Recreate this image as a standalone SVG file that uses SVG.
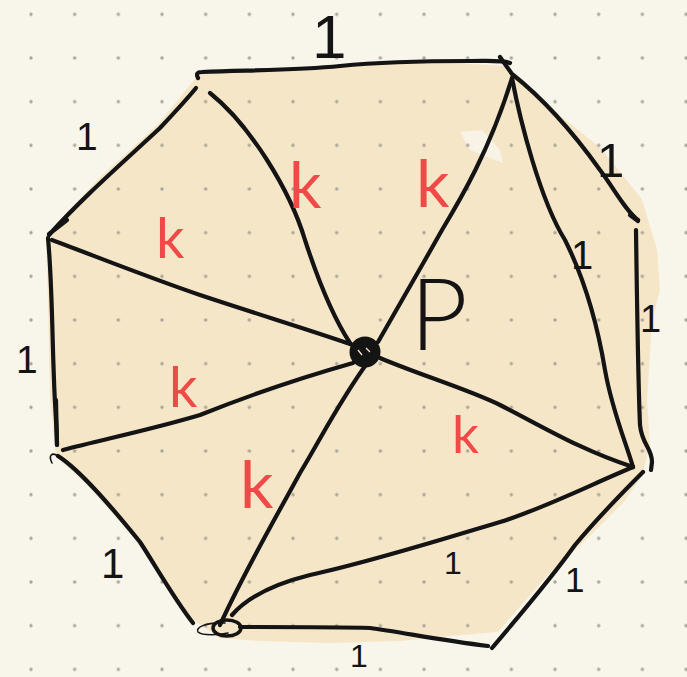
<svg xmlns="http://www.w3.org/2000/svg" width="687" height="677" viewBox="0 0 687 677">
<defs>
<pattern id="dots" x="9.17" y="-7.53" width="43.67" height="43.67" patternUnits="userSpaceOnUse">
<circle cx="21.83" cy="21.83" r="1.7" fill="#aaa59a"/>
</pattern>
<style>
.ln{fill:none;stroke:#141414;stroke-width:4.2;stroke-linecap:round;stroke-linejoin:round}
.thin{fill:none;stroke:#141414;stroke-width:1.6;stroke-linecap:round}
.one{font-family:"Liberation Sans",Arial,sans-serif;fill:#141414}
.k{font-family:"Lato","Liberation Sans",sans-serif;font-weight:400;fill:#f04a48}
.p{font-family:"Lato","Liberation Sans",sans-serif;font-weight:300;fill:#141414}
</style>
</defs>
<rect width="687" height="677" fill="#f8f5ea"/>
<g id="fill">
<path d="M200,76 L300,70 L420,63 L505,68 L525,85 L560,118 L600,150 L640,200 L655,250 L658,290 L650,320 L645,400 L648,445 L640,475 L623,500 L590,533 L547,573 L517,607 L497,630 L450,634 L400,639 L330,641 L260,639 L220,636 L190,615 L160,570 L130,530 L90,485 L58,455 L52,400 L50,300 L48,236 L100,180 L160,125 Z" fill="#f6e6c8" stroke="#f6e6c8" stroke-width="4" stroke-linejoin="round"/>
<path d="M460,132 L482,130 L500,150 L503,163 L470,150 Z" fill="#f8f3e6"/>
</g>
<rect width="687" height="677" fill="url(#dots)"/>
<g id="connectors">
<path id="edge-top" class="ln" d="M198,78 C196,74 197,72 202,72 C260,70 300,70 340,66 C380,62 420,61 470,61 C490,61 503,60 510,63"/>
<path id="edge-upper-left" class="ln" d="M67,220 L49,234 M49,235 C80,200 120,165 160,128 C175,112 188,98 196,88"/>
<path id="edge-left" class="ln" d="M48,238 C52,280 52,330 54,380 C55,410 57,430 57,445"/>
<path class="ln" d="M56,400 L57,445" stroke-width="5.5"/>
<path id="edge-lower-left" class="ln" d="M58,456 C80,470 110,505 140,542 C155,565 175,600 193,623"/>
<path class="thin" d="M52,463 C48,455 52,452 58,456"/>
<path id="edge-bottom" class="ln" d="M240,627 C290,627 340,627 370,628 C400,632 440,640 488,646"/>
<path id="edge-lower-right" class="ln" d="M492,648 C520,615 550,580 575,545 C600,515 625,490 643,472"/>
<path id="edge-right" class="ln" d="M636,230 C637,300 638,380 640,425 C642,445 652,448 652,462 L651,470"/>
<path id="edge-upper-right" class="ln" d="M500,57 L512,74 C545,100 575,135 600,170 C615,190 625,210 638,220"/>
<path class="ln" d="M630,215 L638,221" stroke-width="5.5"/>
<path id="spoke-a" class="ln" d="M210,93 C250,125 290,190 305,240 C318,280 335,320 350,343"/>
<path id="spoke-b" class="ln" d="M378,342 L425,260 L442,230 C460,200 490,150 512,78"/>
<path id="diag-bc" class="ln" d="M512,78 C520,120 540,200 565,240 C590,290 600,340 605,370 C612,410 625,440 633,467"/>
<path id="spoke-c" class="ln" d="M380,358 C420,375 470,390 500,405 C540,425 580,450 633,467"/>
<path id="diag-cd" class="ln" d="M633,467 C590,485 540,510 500,522 C440,540 370,562 310,575 C270,585 245,600 232,615"/>
<path id="spoke-d" class="ln" d="M368,362 C340,400 320,440 300,473 C280,510 245,570 220,625"/>
<path id="spoke-f" class="ln" d="M353,363 C300,378 250,395 200,415 C150,430 100,440 63,450"/>
<path id="spoke-e" class="ln" d="M52,240 C100,258 150,278 200,295 C260,315 310,330 353,345"/>
</g>
<g id="node-p">
<circle cx="365" cy="352" r="15.5" fill="#141414"/>
<path d="M358,350 L362,355 M366,348 L370,352" stroke="#f6e6c8" stroke-width="1.3" fill="none"/>
<text class="p" x="410" y="350" font-size="100">P</text>
</g>
<g id="node-d">
<ellipse cx="227" cy="628" rx="14" ry="8" fill="none" stroke="#141414" stroke-width="3.5"/>
<path class="thin" d="M225,623 C205,622 195,628 198,632 C202,636 220,635 228,633"/>
</g>
<g id="labels-one">
<text class="one" x="312" y="58" font-size="62">1</text>
<text class="one" x="76" y="150" font-size="39">1</text>
<text class="one" x="16" y="373" font-size="39">1</text>
<text class="one" x="101" y="578" font-size="42">1</text>
<text class="one" x="350" y="667" font-size="32">1</text>
<text class="one" x="444" y="574" font-size="32">1</text>
<text class="one" x="565" y="592" font-size="35">1</text>
<text class="one" x="640" y="332" font-size="38">1</text>
<text class="one" x="571" y="269" font-size="40">1</text>
<text class="one" x="597" y="177" font-size="49">1</text>
</g>
<g id="labels-k">
<text class="k" x="289" y="208" font-size="64">k</text>
<text class="k" x="416" y="207" font-size="66">k</text>
<text class="k" x="156" y="258" font-size="56">k</text>
<text class="k" x="169" y="407" font-size="56">k</text>
<text class="k" x="240" y="508" font-size="66">k</text>
<text class="k" x="452" y="453" font-size="53">k</text>
</g>
</svg>
